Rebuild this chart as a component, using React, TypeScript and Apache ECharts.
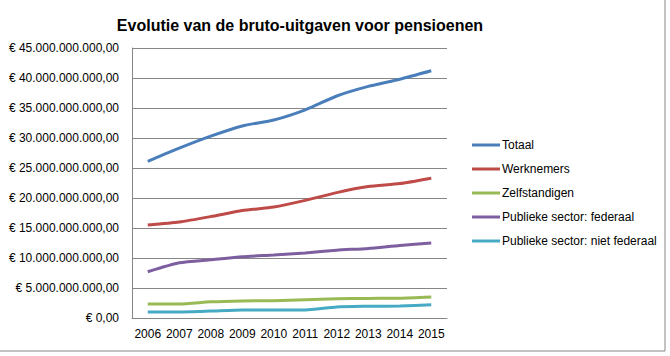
import React, { useEffect, useRef } from "react";
import * as echarts from "echarts";

const years = ["2006", "2007", "2008", "2009", "2010", "2011", "2012", "2013", "2014", "2015"];
const seriesNames = ["Totaal", "Werknemers", "Zelfstandigen", "Publieke sector: federaal", "Publieke sector: niet federaal"];
const totaal = [26.1, 28.3, 30.3, 32.0, 33.0, 34.7, 37.0, 38.6, 39.8, 41.2];
const werknemers = [15.5, 16.0, 16.9, 17.9, 18.5, 19.6, 20.9, 21.9, 22.4, 23.3];
const zelfstandigen = [2.33, 2.33, 2.7, 2.85, 2.88, 3.05, 3.2, 3.27, 3.3, 3.5];
const publiekFederaal = [7.7, 9.2, 9.7, 10.2, 10.5, 10.85, 11.3, 11.6, 12.1, 12.5];
const publiekNietFederaal = [1.0, 1.0, 1.15, 1.33, 1.33, 1.35, 1.85, 1.95, 2.0, 2.2];
const colors = ["#4a7ebb", "#be4b48", "#98b954", "#7d5fa0", "#46aac5"];

const BILLION = 1e9;
const fmt = (v: number) => {
  if (v === 0) return "€ 0,00";
  const s = Math.round(v).toString().replace(/\B(?=(\d{3})+(?!\d))/g, ".");
  return "€ " + s + ",00";
};

export default function App() {
  const ref = useRef<HTMLDivElement>(null);
  useEffect(() => {
    if (!ref.current) return;
    const chart = echarts.init(ref.current, null, { renderer: "svg" });
    const all = [totaal, werknemers, zelfstandigen, publiekFederaal, publiekNietFederaal];
    const font = "'Liberation Sans', Arial, sans-serif";
    chart.setOption({
      animation: false,
      backgroundColor: "#ffffff",
      title: {
        text: "Evolutie van de bruto-uitgaven voor pensioenen",
        left: 295,
        textAlign: "center",
        top: 12,
        textStyle: { fontFamily: font, fontSize: 16, fontWeight: "bold", color: "#000" },
      },
      graphic: [
        {
          type: "rect",
          shape: { x: -1, y: -1, width: 666, height: 352 },
          style: { fill: "none", stroke: "#868686", lineWidth: 1 },
          silent: true,
        },
      ],
      grid: { left: 132, right: 223, top: 48, bottom: 38 },
      legend: {
        orient: "vertical",
        left: 467,
        top: 134,
        itemWidth: 28,
        itemHeight: 3,
        itemGap: 12,
        icon: "rect",
        data: seriesNames,
        textStyle: { fontFamily: font, fontSize: 12, color: "#000", padding: [0, 0, 0, -3] },
      },
      xAxis: {
        type: "category",
        data: years,
        boundaryGap: true,
        axisLine: { lineStyle: { color: "#868686", width: 1 } },
        axisTick: { show: false },
        axisLabel: { fontFamily: font, fontSize: 12, color: "#000", margin: 10, interval: 0 },
      },
      yAxis: {
        type: "value",
        min: 0,
        max: 45 * BILLION,
        interval: 5 * BILLION,
        axisLine: { show: true, lineStyle: { color: "#868686", width: 1 } },
        axisTick: { show: false },
        splitLine: { lineStyle: { color: "#868686", width: 1 } },
        axisLabel: { fontFamily: font, fontSize: 12, color: "#000", margin: 13, formatter: fmt },
      },
      series: seriesNames.map((name, i) => ({
        name,
        type: "line",
        data: all[i].map((v) => v * BILLION),
        smooth: 0.2,
        showSymbol: false,
        symbol: "none",
        lineStyle: { color: colors[i], width: 3 },
        itemStyle: { color: colors[i] },
      })),
    });
    return () => chart.dispose();
  }, []);
  return <div ref={ref} style={{ position: "fixed", left: 0, top: 0, width: 670, height: 356 }} />;
}
